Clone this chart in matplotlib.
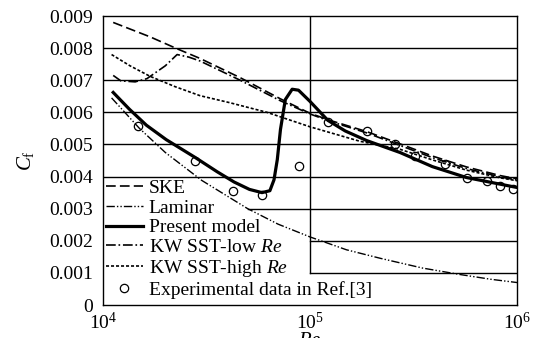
import matplotlib
matplotlib.use("Agg")
import matplotlib.pyplot as plt
from matplotlib.ticker import FixedLocator, NullLocator

plt.rcParams['font.family'] = ['Liberation Serif', 'DejaVu Serif']
plt.rcParams['mathtext.fontset'] = 'custom'
plt.rcParams['mathtext.rm'] = 'Liberation Serif'
plt.rcParams['mathtext.it'] = 'Liberation Serif:italic'
plt.rcParams['lines.scale_dashes'] = False

# --- data -----------------------------------------------------------------
ske_re = [1.12e4, 1.69e4, 2.28e4, 2.94e4, 4.6e4, 7.2e4, 1.0e5, 1.25e5,
          1.88e5, 2.72e5, 3.9e5, 5.7e5, 8.3e5, 1.0e6]
ske_cf = [8.80e-3, 8.35e-3, 7.98e-3, 7.68e-3, 7.08e-3, 6.42e-3, 5.97e-3,
          5.75e-3, 5.40e-3, 5.02e-3, 4.64e-3, 4.30e-3, 4.03e-3, 3.93e-3]

lam_re = [1.1e4, 1.5e4, 2.0e4, 3.0e4, 5.0e4, 7.0e4, 1.0e5, 1.5e5,
          2.2e5, 3.5e5, 5.3e5, 7.5e5, 1.0e6]
lam_cf = [6.45e-3, 5.50e-3, 4.75e-3, 3.88e-3, 3.00e-3, 2.52e-3, 2.12e-3,
          1.72e-3, 1.45e-3, 1.15e-3, 0.95e-3, 0.80e-3, 0.70e-3]

pm_re = [1.12e4, 1.34e4, 1.62e4, 2.02e4, 2.78e4, 3.56e4, 4.3e4, 5.1e4,
         5.86e4, 6.4e4, 6.7e4, 6.95e4, 7.2e4, 7.6e4, 8.2e4, 8.8e4, 1.0e5,
         1.22e5, 1.48e5, 1.88e5, 2.72e5, 3.9e5, 5.7e5, 1.0e6]
pm_cf = [6.62e-3, 6.10e-3, 5.60e-3, 5.15e-3, 4.60e-3, 4.15e-3, 3.83e-3,
         3.60e-3, 3.50e-3, 3.56e-3, 3.90e-3, 4.53e-3, 5.47e-3, 6.40e-3,
         6.72e-3, 6.69e-3, 6.34e-3, 5.75e-3, 5.42e-3, 5.12e-3, 4.75e-3,
         4.31e-3, 3.97e-3, 3.66e-3]

kwl_re = [1.12e4, 1.22e4, 1.43e4, 1.63e4, 2.0e4, 2.28e4, 2.6e4, 2.94e4,
          4.6e4, 7.2e4, 1.0e5, 1.25e5, 1.88e5, 2.72e5, 3.9e5, 5.7e5,
          8.3e5, 1.0e6]
kwl_cf = [7.15e-3, 6.98e-3, 6.95e-3, 7.05e-3, 7.45e-3, 7.80e-3, 7.72e-3,
          7.60e-3, 7.00e-3, 6.36e-3, 5.95e-3, 5.72e-3, 5.36e-3, 4.97e-3,
          4.59e-3, 4.25e-3, 3.99e-3, 3.89e-3]

kwh_re = [1.1e4, 1.35e4, 1.69e4, 2.23e4, 2.94e4, 4.1e4, 6.2e4, 1.0e5,
          1.74e5, 2.72e5, 3.9e5, 5.7e5, 8.3e5, 1.0e6]
kwh_cf = [7.80e-3, 7.45e-3, 7.12e-3, 6.80e-3, 6.52e-3, 6.30e-3, 6.00e-3,
          5.55e-3, 5.10e-3, 4.85e-3, 4.52e-3, 4.20e-3, 3.96e-3, 3.87e-3]

exp_re = [1.48e4, 2.78e4, 4.25e4, 5.86e4, 8.85e4, 1.22e5, 1.88e5, 2.57e5,
          3.22e5, 4.5e5, 5.73e5, 7.16e5, 8.27e5, 9.57e5]
exp_cf = [5.56e-3, 4.50e-3, 3.55e-3, 3.44e-3, 4.33e-3, 5.70e-3, 5.41e-3,
          5.00e-3, 4.65e-3, 4.40e-3, 3.97e-3, 3.86e-3, 3.72e-3, 3.60e-3]

y_ticks = [0, 0.001, 0.002, 0.003, 0.004, 0.005, 0.006, 0.007, 0.008, 0.009]
y_tick_labels = ["0", "0.001", "0.002", "0.003", "0.004", "0.005",
                 "0.006", "0.007", "0.008", "0.009"]
x_ticks = [1e4, 1e5, 1e6]
x_tick_labels = [r"$10^4$", r"$10^5$", r"$10^6$"]

labels = ["SKE", "Laminar", "Present model", r"KW SST-low $Re$",
          r"KW SST-high $Re$", "Experimental data in Ref.[3]"]

# --- figure ---------------------------------------------------------------
fig = plt.figure(figsize=(5.34, 3.38), dpi=100)
ax = fig.add_axes([0.1929, 0.0976, 0.7753, 0.855])
ax.set_xscale('log')
ax.set_xlim(1e4, 1e6)
ax.set_ylim(0, 0.009)

# grid: full rows in the upper half, shortened rows beside the legend
for yv in y_ticks[4:-1]:
    ax.axhline(yv, color='black', lw=1.0, zorder=1)
ax.axhline(0.003, xmin=0.35, color='black', lw=1.0, zorder=1)
for yv in (0.002, 0.001):
    ax.axhline(yv, xmin=0.5, color='black', lw=1.0, zorder=1)
ax.axvline(1e5, ymin=0.001 / 0.009, color='black', lw=1.0, zorder=1)

ax.plot(ske_re, ske_cf, color='black', lw=1.2, dashes=(7, 3), label=labels[0], zorder=3)
ax.plot(lam_re, lam_cf, color='black', lw=1.0, dashes=(6, 1.5, 1, 1.5, 1, 1.5),
        label=labels[1], zorder=3)
ax.plot(pm_re, pm_cf, color='black', lw=2.3, label=labels[2], zorder=4)
ax.plot(kwl_re, kwl_cf, color='black', lw=1.2, dashes=(7, 2, 1.2, 2),
        label=labels[3], zorder=3)
ax.plot(kwh_re, kwh_cf, color='black', lw=1.2, dashes=(2.2, 1.4),
        label=labels[4], zorder=3)
ax.plot(exp_re, exp_cf, linestyle='none', marker='o', markersize=6,
        markerfacecolor='none', markeredgecolor='black', markeredgewidth=0.9,
        label=labels[5], zorder=5)

ax.xaxis.set_major_locator(FixedLocator(x_ticks))
ax.xaxis.set_minor_locator(NullLocator())
ax.set_xticklabels(x_tick_labels)
ax.yaxis.set_major_locator(FixedLocator(y_ticks))
ax.set_yticklabels(y_tick_labels)
ax.tick_params(axis='both', length=0, labelsize=14)
ax.tick_params(axis='y', pad=7)
ax.tick_params(axis='x', pad=5)

for sp in ax.spines.values():
    sp.set_color('black')
    sp.set_linewidth(1.0)

ax.set_ylabel(r"$C_\mathrm{f}$", fontsize=15, labelpad=10)
ax.set_xlabel(r"$Re$", fontsize=15, labelpad=-1)

leg = ax.legend(loc='lower left', bbox_to_anchor=(0.0, 0.012), frameon=False,
                fontsize=14, handlelength=1.9, handletextpad=0.3,
                labelspacing=0.1, borderaxespad=0.0, borderpad=0.15)
leg.set_zorder(2)

fig.savefig('out.png', dpi=100)
